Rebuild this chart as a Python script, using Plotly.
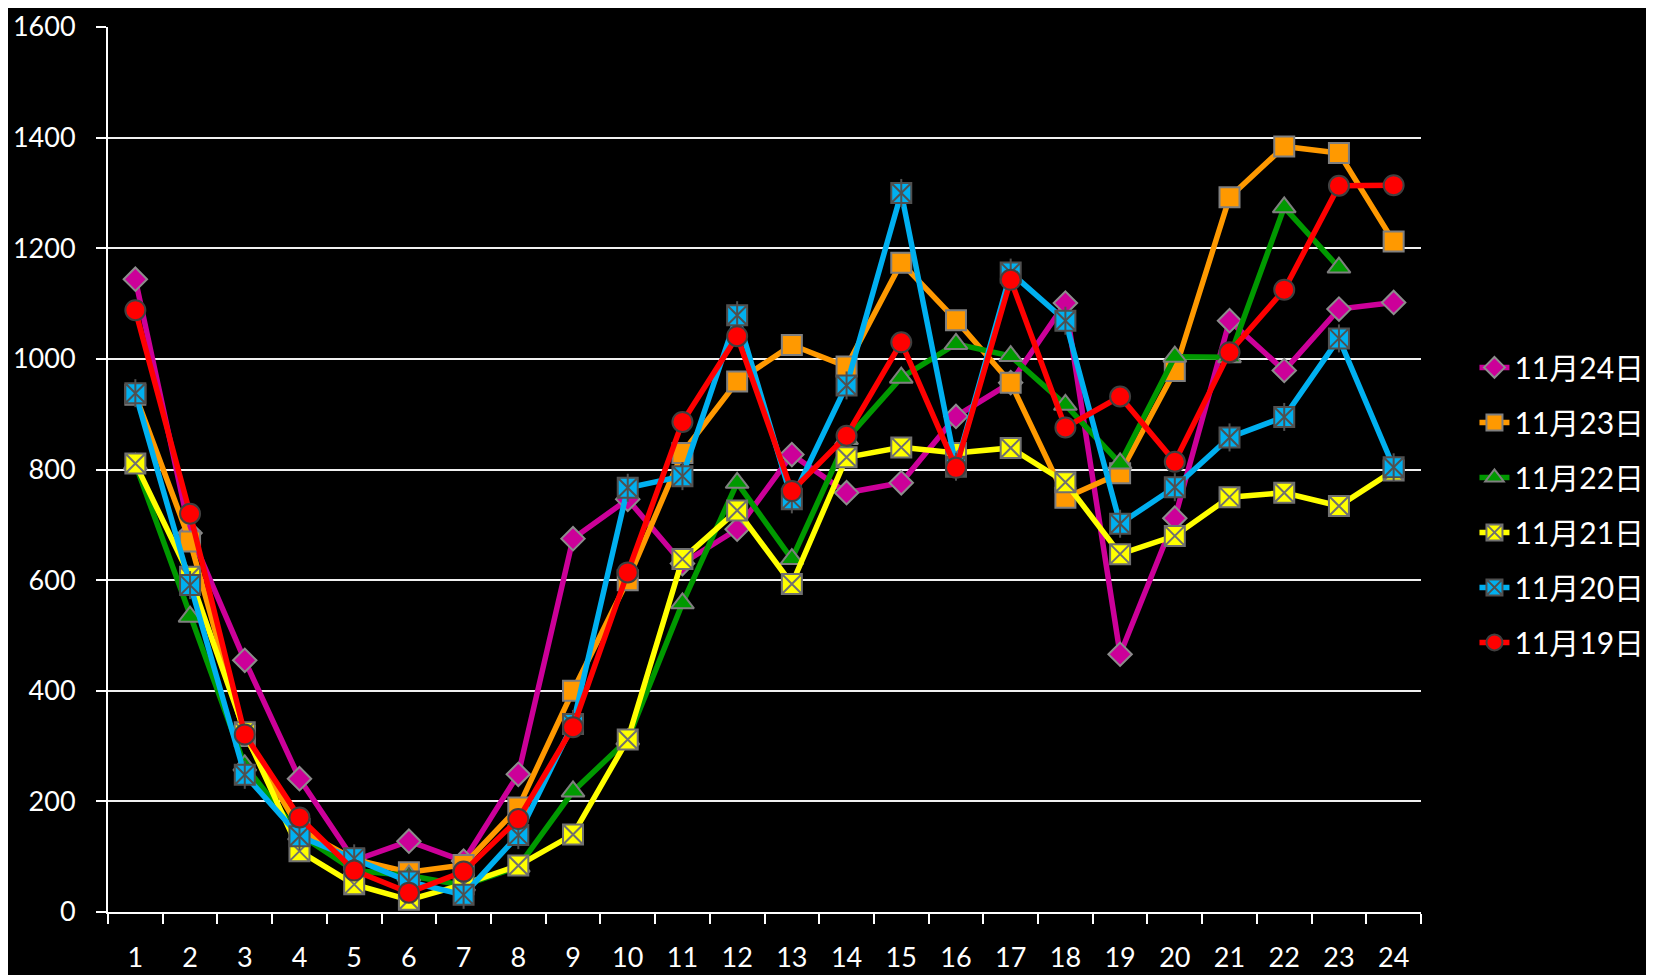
import plotly.graph_objects as go

hours = [str(i) for i in range(1, 25)]

d1124 = [1144, 685, 455, 241, 93, 128, 92, 249, 675, 746, 630, 692, 827, 758, 776, 896, 957, 1101, 466, 712, 1069, 979, 1090, 1102]
d1123 = [935, 670, 318, 150, 95, 72, 85, 189, 400, 600, 830, 959, 1025, 986, 1174, 1070, 957, 749, 793, 978, 1292, 1384, 1372, 1212]
d1122 = [810, 534, 265, 140, 75, 66, 48, 82, 218, 312, 558, 776, 638, 855, 966, 1027, 1005, 917, 811, 1004, 1003, 1274, 1165, None]
d1121 = [811, 606, 325, 110, 50, 22, 50, 84, 140, 312, 638, 726, 593, 822, 840, 830, 839, 777, 647, 680, 750, 758, 734, 798]
d1120 = [938, 591, 248, 137, 97, 55, 31, 139, 340, 767, 788, 1079, 746, 952, 1300, 805, 1156, 1069, 702, 768, 858, 895, 1037, 804]
d1119 = [1088, 720, 321, 171, 75, 35, 73, 168, 334, 614, 886, 1041, 761, 861, 1030, 803, 1143, 876, 932, 814, 1012, 1125, 1313, 1314]

names = ["11月24日", "11月23日", "11月22日", "11月21日", "11月20日", "11月19日"]
y_ticks = [0, 200, 400, 600, 800, 1000, 1200, 1400, 1600]

FONT = "Lato, 'Noto Sans CJK SC', sans-serif"

fig = go.Figure()

def add(name, y, color, symbol, size, lcol, lw=2, width=5.5, group=None):
    fig.add_trace(go.Scatter(
        x=hours, y=y, name=name, mode="lines+markers",
        legendgroup=group or name,
        line=dict(color=color, width=width),
        marker=dict(symbol=symbol, size=size, color=color,
                    line=dict(color=lcol, width=lw)),
    ))

add(names[0], d1124, "#CC0099", "diamond", 18, "#8c8c8c")
add(names[1], d1123, "#FF9900", "square", 20, "#7f7f7f")
add(names[2], d1122, "#009900", "triangle-up", 20, "#7f7f7f")
add(names[3], d1121, "#FFFF00", "square-x", 20, "#707070")
add(names[4], d1120, "#00B0F0", "square-x", 20, "#505050")
# vertical stroke to form the asterisk on the 11月20日 markers
fig.add_trace(go.Scatter(
    x=hours, y=d1120, mode="markers", showlegend=False, hoverinfo="skip",
    legendgroup=names[4],
    marker=dict(symbol="line-ns", size=20, color="#505050",
                line=dict(color="#505050", width=2)),
))
add(names[5], d1119, "#FF0000", "circle", 20, "#404040")

fig.update_layout(
    width=1654, height=975,
    paper_bgcolor="black", plot_bgcolor="black",
    margin=dict(l=100, r=231, t=19, b=71),
    font=dict(family=FONT, color="white", size=27),
    showlegend=True,
    legend=dict(
        x=1.174, xanchor="right", y=0.46, yanchor="middle",
        font=dict(size=30, color="white", family=FONT),
        bgcolor="rgba(0,0,0,0)", tracegroupgap=13,
        traceorder="grouped",
    ),
    xaxis=dict(
        type="category", tickson="boundaries", range=[-0.5, 23.5],
        automargin=False,
        showgrid=False, showline=True, linecolor="white", linewidth=2,
        ticks="outside", ticklen=10, tickwidth=2, tickcolor="white",
        tickfont=dict(size=27, color="white", family=FONT),
        ticklabelstandoff=21, ticklabeloverflow="allow", zeroline=False,
    ),
    yaxis=dict(
        range=[0, 1600], tickvals=y_ticks, automargin=False,
        showgrid=True, gridcolor="#F0F0F0", gridwidth=1.5,
        showline=True, linecolor="white", linewidth=2,
        ticks="outside", ticklen=10, tickwidth=2, tickcolor="white",
        tickfont=dict(size=27, color="white", family=FONT),
        ticklabelstandoff=15, ticklabeloverflow="allow", zeroline=False,
    ),
)

fig.write_html("out.html")
